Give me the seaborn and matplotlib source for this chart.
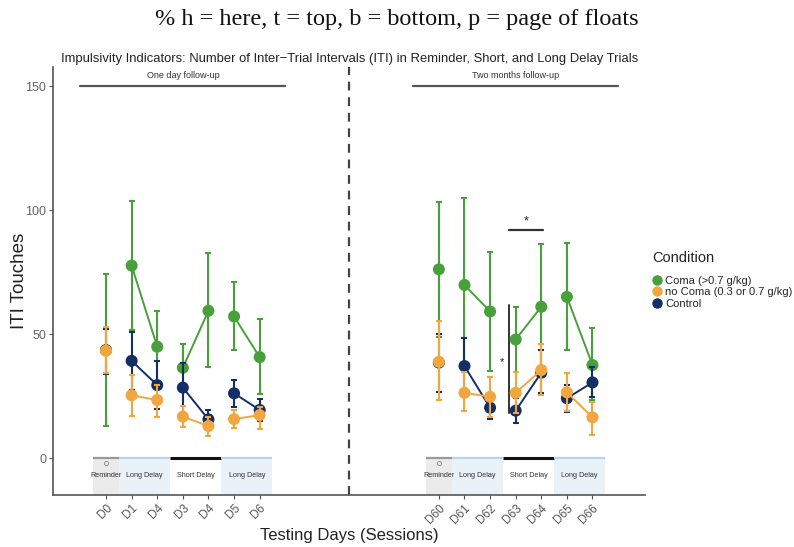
import numpy as np
import pandas as pd
import matplotlib
matplotlib.use("Agg")
import matplotlib.pyplot as plt
import matplotlib.transforms as mtransforms
import seaborn as sns
from matplotlib.lines import Line2D
from matplotlib.patches import Rectangle

sns.set_theme(style="white")
plt.rcParams['font.family'] = ['Liberation Sans', 'DejaVu Sans']

# ---------------- data ----------------
day_labels = ["D0", "D1", "D4", "D3", "D4", "D5", "D6",
              "D60", "D61", "D62", "D63", "D64", "D65", "D66"]
day_pos = [0, 1, 2, 3, 4, 5, 6, 13, 14, 15, 16, 17, 18, 19]
segment = [0, 1, 1, 2, 2, 3, 3, 4, 5, 5, 6, 6, 7, 7]

conditions = ["Coma (>0.7 g/kg)", "no Coma (0.3 or 0.7 g/kg)", "Control"]

coma_mean = [43.5, 77.6, 44.9, 36.4, 59.4, 57.1, 40.7, 76.1, 69.8, 59.1, 47.8, 61.0, 65.0, 37.5]
coma_lo   = [12.9, 51.6, 31.0, 27.0, 36.6, 43.5, 25.9, 49.0, 34.8, 34.9, 34.6, 36.0, 43.5, 23.4]
coma_hi   = [74.1, 103.6, 59.4, 46.0, 82.5, 71.0, 55.9, 103.4, 105.0, 83.2, 61.0, 86.2, 86.8, 52.3]

nocoma_mean = [43.3, 25.3, 23.4, 16.7, 12.9, 15.7, 17.3, 38.8, 26.3, 24.7, 26.3, 35.5, 26.5, 16.4]
nocoma_lo   = [34.1, 17.1, 16.7, 12.4, 8.9, 12.0, 11.6, 23.4, 18.9, 16.7, 18.0, 25.4, 19.0, 9.3]
nocoma_hi   = [52.9, 33.5, 29.5, 21.1, 16.6, 19.5, 20.5, 55.4, 34.8, 32.8, 34.8, 46.0, 34.1, 22.7]

control_mean = [43.5, 39.2, 29.4, 28.4, 15.6, 26.1, 19.4, 38.5, 37.1, 20.3, 19.1, 34.4, 24.1, 30.5]
control_lo   = [34.0, 27.4, 19.8, 18.3, 11.6, 20.7, 14.8, 26.5, 26.0, 15.6, 14.2, 26.1, 18.7, 24.7]
control_hi   = [52.0, 50.9, 39.1, 38.4, 19.5, 31.3, 23.9, 50.0, 48.3, 25.4, 24.1, 43.5, 29.4, 36.8]

trial_types = ["Reminder", "Long Delay", "Short Delay", "Long Delay"]
trial_start = [-0.5, 0.5, 2.5, 4.5]
trial_end = [0.5, 2.5, 4.5, 6.5]

yticks = [0, 50, 100, 150]

palette = {"Coma (>0.7 g/kg)": "#48a03a",
           "no Coma (0.3 or 0.7 g/kg)": "#f2a640",
           "Control": "#142f66"}

rows = []
for cond, m, lo, hi in [(conditions[0], coma_mean, coma_lo, coma_hi),
                        (conditions[1], nocoma_mean, nocoma_lo, nocoma_hi),
                        (conditions[2], control_mean, control_lo, control_hi)]:
    for i in range(len(day_labels)):
        rows.append(dict(cond=cond, x=day_pos[i], seg=segment[i],
                         mean=m[i], lo=lo[i], hi=hi[i]))
df = pd.DataFrame(rows)

# ---------------- figure ----------------
fig = plt.figure(figsize=(7.94, 5.47), dpi=100)
ax = fig.add_axes([0.0668, 0.0951, 0.8123 - 0.0668, 0.8775 - 0.0951])

draw_order = ["Coma (>0.7 g/kg)", "Control", "no Coma (0.3 or 0.7 g/kg)"]
for k, cond in enumerate(draw_order):
    sub = df[df.cond == cond]
    col = palette[cond]
    ax.errorbar(sub.x, sub["mean"], yerr=[sub["mean"] - sub.lo, sub.hi - sub["mean"]],
                fmt="none", ecolor=col, elinewidth=1.5, capsize=2.5, capthick=1.5,
                zorder=2 + k)
    sns.lineplot(data=sub, x="x", y="mean", units="seg", estimator=None,
                 color=col, lw=1.4, ax=ax, legend=False, zorder=2.2 + k)
    sns.scatterplot(data=sub, x="x", y="mean", color=col, s=75,
                    edgecolor="none", ax=ax, legend=False, zorder=2.5 + k)

# trial-type boxes along the bottom
box_fill = {"Reminder": "#ebebeb", "Long Delay": "#e9f2f8", "Short Delay": "#ffffff"}
box_edge = {"Reminder": "#9a9a9a", "Long Delay": "#b7d5e8", "Short Delay": "#111111"}
for offset in [0, 13]:
    for name, s, e in zip(trial_types, trial_start, trial_end):
        ax.add_patch(Rectangle((s + offset, -14.5), e - s, 14.5,
                               facecolor=box_fill[name], edgecolor="none", zorder=1))
        ax.plot([s + offset, e + offset], [0, 0], color=box_edge[name],
                lw=2.2 if name == "Short Delay" else 1.6, zorder=1.5,
                solid_capstyle="butt")
        ax.text((s + e) / 2 + offset, -7, name, fontsize=5.2, ha="center",
                va="center", color="#333333", zorder=1.6)
    ax.plot([offset], [-2.2], marker="o", ms=3, mfc="none", mec="#888888",
            mew=0.6, zorder=1.6)

# follow-up bars
ax.plot([-1, 7], [150, 150], color="#555555", lw=1.6)
ax.plot([12, 20], [150, 150], color="#555555", lw=1.6)
ax.text(3, 152.5, "One day follow-up", fontsize=6.5, ha="center", va="bottom", color="#333333")
ax.text(16, 152.5, "Two months follow-up", fontsize=6.5, ha="center", va="bottom", color="#333333")

# dashed separator
ax.axvline(9.5, color="#444444", lw=1.6, ls=(0, (4, 3)))

# significance annotations
ax.plot([15.75, 17.05], [92, 92], color="#333333", lw=1.6)
ax.text(16.4, 93, "*", fontsize=9, ha="center", va="bottom", color="#222222")
ax.plot([15.75, 15.75], [18.3, 61.7], color="#333333", lw=1.4)
ax.text(15.45, 38.5, "*", fontsize=8, ha="center", va="center", color="#222222")

# axes styling
ax.set_xlim(-2.07, 21.05)
ax.set_ylim(-14.9, 157.7)
ax.set_xticks(day_pos)
ax.set_xticklabels(day_labels, rotation=45, ha="right", va="top",
                   rotation_mode="anchor", fontsize=8.5, color="#555555")
offset_tr = mtransforms.ScaledTranslation(5 / 100, -2 / 100, fig.dpi_scale_trans)
for lab in ax.get_xticklabels():
    lab.set_transform(lab.get_transform() + offset_tr)
ax.set_yticks(yticks)
ax.set_yticklabels([str(t) for t in yticks], fontsize=9, color="#666666")
ax.tick_params(axis="both", length=3, width=0.8, color="#555555", pad=2,
               left=True, bottom=True)
for side in ["top", "right"]:
    ax.spines[side].set_visible(False)
for side in ["left", "bottom"]:
    ax.spines[side].set_color("#555555")
    ax.spines[side].set_linewidth(1.2)
ax.set_xlabel("Testing Days (Sessions)", fontsize=12, color="#222222")
ax.xaxis.set_label_coords(0.5, -0.077)
ax.set_ylabel("ITI Touches", fontsize=13.5, color="#222222")
ax.yaxis.set_label_coords(-0.042, 0.5)

fig.text(0.44, 0.893, "Impulsivity Indicators: Number of Inter\u2212Trial Intervals (ITI) in Reminder, Short, and Long Delay Trials",
         fontsize=9.4, ha="center", va="center", color="#222222")
fig.text(0.5, 0.965, "% h = here, t = top, b = bottom, p = page of floats",
         fontsize=17.5, ha="center", va="center", color="#111111",
         family=["Liberation Serif", "DejaVu Serif"])

fig.text(652 / 794, 1 - 258 / 547, "Condition", fontsize=10.5, ha="left",
         va="center", color="#222222")
handles = [Line2D([], [], marker="o", ls="none", color=palette[c], ms=6.5) for c in conditions]
leg = fig.legend(handles, conditions, loc="upper left",
                 bbox_to_anchor=(651 / 794, 1 - 276 / 547), frameon=False, fontsize=8,
                 handletextpad=0.25, labelspacing=0.12,
                 borderaxespad=0, borderpad=0, handlelength=1.0)

fig.savefig("out.png", dpi=100)
